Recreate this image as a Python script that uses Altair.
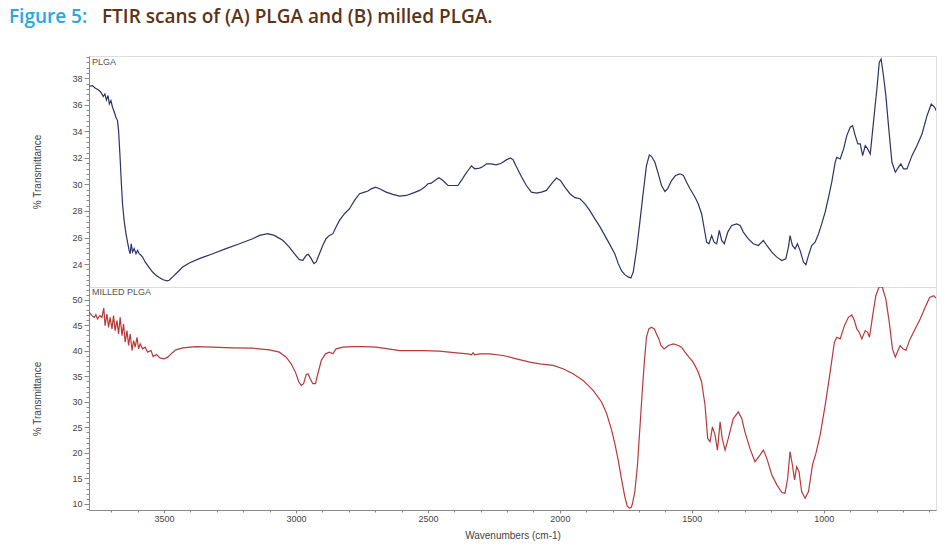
import altair as alt
import pandas as pd

# ---------------- data ----------------
plga_wn = [3783, 3771, 3761, 3748, 3739, 3730, 3724, 3718, 3712, 3707, 3701, 3695, 3688, 3682, 3676, 3672,
           3667, 3662, 3657, 3651, 3644, 3638, 3632, 3628, 3624, 3619, 3613, 3606, 3600, 3594, 3587, 3581,
           3571, 3562, 3553, 3543, 3530, 3518, 3505, 3490, 3480, 3467, 3448, 3429, 3404, 3366, 3315, 3265,
           3214, 3164, 3138, 3107, 3082, 3050, 3025, 3006, 2987, 2974, 2961, 2953, 2942, 2932, 2923, 2911,
           2898, 2886, 2873, 2860, 2848, 2835, 2816, 2797, 2778, 2759, 2740, 2727, 2715, 2698, 2683, 2658,
           2633, 2607, 2582, 2557, 2531, 2512, 2500, 2487, 2474, 2458, 2443, 2424, 2405, 2386, 2373, 2361,
           2348, 2335, 2323, 2304, 2291, 2278, 2260, 2241, 2222, 2203, 2187, 2177, 2165, 2146, 2127, 2108,
           2089, 2070, 2051, 2032, 2013, 1998, 1981, 1962, 1943, 1924, 1905, 1887, 1868, 1849, 1830, 1811,
           1792, 1779, 1766, 1754, 1741, 1731, 1722, 1709, 1697, 1684, 1672, 1661, 1653, 1640, 1627, 1615,
           1602, 1592, 1577, 1562, 1545, 1532, 1520, 1507, 1488, 1476, 1463, 1453, 1444, 1435, 1425, 1416,
           1406, 1396, 1387, 1377, 1364, 1349, 1330, 1317, 1305, 1286, 1267, 1248, 1229, 1216, 1197, 1178,
           1159, 1144, 1134, 1128, 1119, 1109, 1100, 1090, 1077, 1068, 1058, 1046, 1033, 1020, 1008, 995,
           982, 970, 957, 951, 938, 925, 913, 900, 891, 881, 871, 862, 853, 843, 834, 824, 812, 799, 790,
           783, 774, 765, 755, 742, 729, 717, 708, 698, 685, 666, 647, 628, 609, 593, 580, 571]
plga_t = [37.40, 37.45, 37.27, 37.12, 36.95, 36.62, 36.82, 36.37, 36.70, 36.07, 36.32, 35.82, 35.44, 35.07,
          34.81, 34.06, 32.31, 30.30, 28.54, 27.29, 26.29, 25.66, 25.03, 24.78, 25.53, 24.91, 25.16, 24.78,
          25.03, 24.78, 24.66, 24.53, 24.16, 23.90, 23.65, 23.40, 23.15, 22.98, 22.83, 22.73, 22.78, 23.03,
          23.40, 23.78, 24.08, 24.41, 24.78, 25.16, 25.53, 25.91, 26.16, 26.29, 26.16, 25.79, 25.28, 24.78,
          24.33, 24.28, 24.66, 24.73, 24.41, 24.03, 24.16, 24.78, 25.41, 25.91, 26.16, 26.29, 26.79, 27.29,
          27.79, 28.17, 28.80, 29.30, 29.42, 29.50, 29.67, 29.80, 29.67, 29.42, 29.25, 29.12, 29.17, 29.35,
          29.55, 29.80, 30.05, 30.10, 30.30, 30.50, 30.30, 29.92, 29.92, 29.92, 30.30, 30.68, 31.05, 31.40,
          31.18, 31.23, 31.35, 31.55, 31.55, 31.48, 31.60, 31.85, 32.00, 31.85, 31.35, 30.60, 29.92, 29.42,
          29.35, 29.42, 29.55, 30.05, 30.48, 30.30, 29.80, 29.30, 29.00, 28.92, 28.54, 28.04, 27.42, 26.84,
          26.16, 25.48, 24.78, 24.03, 23.48, 23.20, 23.03, 22.95, 23.40, 25.15, 27.16, 29.42, 31.42, 32.22,
          32.12, 31.67, 30.80, 29.92, 29.47, 29.67, 30.29, 30.67, 30.80, 30.67, 30.17, 29.67, 29.04, 28.54,
          27.79, 26.66, 25.65, 25.53, 26.15, 25.65, 25.53, 26.53, 25.78, 25.53, 26.41, 26.91, 27.03, 26.91,
          26.41, 25.90, 25.53, 25.40, 25.78, 25.40, 24.90, 24.52, 24.27, 24.40, 25.28, 26.15, 25.40, 25.15,
          25.53, 25.03, 24.15, 23.95, 24.65, 25.40, 25.65, 26.28, 27.03, 27.91, 29.04, 30.17, 31.67, 32.05,
          31.92, 32.68, 33.68, 34.31, 34.43, 33.68, 33.05, 33.05, 32.17, 32.93, 32.68, 32.30, 34.68, 37.19,
          39.20, 39.45, 38.19, 36.69, 34.43, 31.67, 30.92, 31.30, 31.55, 31.17, 31.17, 32.17, 32.93, 33.80,
          35.18, 36.06, 35.81, 35.43]

milled_wn = [3783, 3773, 3764, 3758, 3752, 3743, 3735, 3728, 3723, 3716, 3710, 3704, 3697, 3691, 3685, 3678,
             3672, 3666, 3659, 3653, 3647, 3640, 3634, 3628, 3621, 3615, 3609, 3602, 3596, 3590, 3581, 3571,
             3562, 3549, 3541, 3528, 3515, 3499, 3486, 3470, 3455, 3429, 3379, 3315, 3240, 3164, 3100, 3063,
             3037, 3018, 3002, 2989, 2980, 2971, 2961, 2954, 2946, 2936, 2926, 2917, 2904, 2888, 2873, 2860,
             2848, 2822, 2784, 2746, 2696, 2607, 2519, 2456, 2392, 2348, 2335, 2329, 2323, 2304, 2266, 2215,
             2165, 2114, 2076, 2026, 1988, 1950, 1912, 1874, 1842, 1823, 1804, 1792, 1779, 1766, 1754, 1745,
             1737, 1730, 1726, 1716, 1706, 1697, 1688, 1680, 1672, 1663, 1653, 1642, 1634, 1625, 1617, 1605,
             1589, 1570, 1551, 1539, 1526, 1511, 1495, 1476, 1463, 1450, 1440, 1431, 1422, 1412, 1403, 1393,
             1385, 1374, 1362, 1343, 1324, 1311, 1299, 1280, 1261, 1242, 1229, 1216, 1197, 1178, 1159, 1147,
             1137, 1128, 1119, 1111, 1103, 1094, 1084, 1071, 1058, 1043, 1030, 1014, 995, 976, 960, 951, 938,
             922, 907, 894, 884, 875, 866, 856, 843, 834, 827, 815, 803, 790, 778, 765, 752, 740, 729, 719,
             711, 700, 689, 673, 654, 635, 616, 599, 584, 571]
milled_t = [47.53, 46.88, 46.56, 47.08, 46.23, 46.88, 46.56, 48.38, 44.93, 47.21, 44.60, 46.56, 44.28, 46.88,
            43.95, 45.91, 43.30, 46.56, 42.98, 45.26, 41.68, 43.95, 41.03, 43.30, 40.05, 42.00, 40.70, 42.65,
            40.38, 41.35, 40.38, 40.70, 39.73, 40.05, 38.88, 39.27, 38.62, 38.43, 38.75, 39.53, 40.18, 40.57,
            40.83, 40.70, 40.57, 40.51, 40.18, 39.73, 38.75, 37.45, 35.82, 33.87, 33.22, 33.55, 35.37, 35.50,
            34.52, 33.55, 33.55, 35.50, 38.10, 39.40, 39.73, 39.40, 40.38, 40.70, 40.83, 40.83, 40.70, 40.05,
            40.05, 39.92, 39.60, 39.40, 39.21, 39.60, 39.21, 39.40, 39.40, 39.08, 38.43, 37.78, 37.45, 37.13,
            36.48, 35.50, 34.20, 32.25, 29.97, 27.70, 24.44, 21.84, 18.59, 14.69, 11.43, 9.61, 9.16, 9.29,
            9.81, 12.41, 17.62, 24.77, 31.93, 37.78, 42.66, 44.28, 44.61, 44.28, 43.31, 42.33, 41.03, 40.38,
            41.03, 41.36, 41.03, 40.71, 39.73, 38.76, 37.78, 35.83, 33.88, 29.32, 22.82, 22.17, 25.10, 23.47,
            20.54, 26.07, 22.82, 20.54, 22.82, 26.72, 28.02, 26.72, 24.12, 20.87, 18.27, 19.57, 20.54, 18.92,
            15.67, 13.72, 12.22, 12.09, 15.02, 20.22, 17.62, 14.69, 17.29, 16.32, 12.41, 11.11, 12.41, 17.62,
            19.89, 23.47, 29.32, 35.83, 41.68, 42.66, 42.33, 44.93, 46.56, 47.02, 45.91, 44.28, 43.63, 42.33,
            43.96, 43.63, 42.66, 46.89, 50.79, 52.61, 52.41, 50.14, 45.58, 40.38, 38.76, 40.06, 41.03, 40.38,
            40.06, 42.33, 44.28, 46.24, 48.51, 50.46, 50.79, 50.14]

x_domain = [575, 3784]
x_tick_values = list(range(600, 3800, 100))
top_domain = [22.27, 39.68]
top_tick_values = [round(22.4 + 0.4 * i, 1) for i in range(44)]
bottom_domain = [8.8, 52.5]
bottom_tick_values = list(range(9, 53))

title_a = ["Figure 5:"]
title_b = ["FTIR scans of (A) PLGA and (B) milled PLGA."]
label_top = ["PLGA"]
label_bottom = ["MILLED PLGA"]

# ---------------- chart ----------------
top_df = pd.DataFrame({"wn": plga_wn, "t": plga_t})
bot_df = pd.DataFrame({"wn": milled_wn, "t": milled_t})

AX_FONT = "Liberation Sans Narrow, Liberation Sans, Arial, sans-serif"
TITLE_FONT = "Open Sans"
W = 847

x_scale = alt.Scale(domain=x_domain, reverse=True, nice=False, zero=False)


def is_major(step):
    return f"abs(datum.value / {step} - round(datum.value / {step})) < 0.001"


def y_axis(values, major):
    return alt.Axis(
        title="% Transmittance",
        values=values,
        labelExpr=f"{is_major(major)} ? format(datum.value, 'd') : ''",
        tickSize={"condition": {"test": is_major(major), "value": 5}, "value": 3},
        grid=False,
        labelOverlap=False,
        labelBound=False,
        labelFont=AX_FONT, labelFontSize=9, labelColor="#444",
        titleFont="Liberation Sans, Arial, sans-serif", titleFontSize=10, titleFontWeight="normal",
        titleColor="#444", titlePadding=29,
        domainColor="#888", tickColor="#888", labelPadding=2,
    )


def text_layer(txt, **kw):
    return alt.Chart(pd.DataFrame({"txt": txt})).mark_text(
        align="left", baseline="top", **kw
    )


top_line = alt.Chart(top_df).mark_line(color="#2e3266", strokeWidth=1.2, clip=True).encode(
    x=alt.X("wn:Q", scale=x_scale, axis=None),
    y=alt.Y("t:Q", scale=alt.Scale(domain=top_domain, nice=False, zero=False),
            axis=y_axis(top_tick_values, 2)),
)
top_label = text_layer(label_top, font="Liberation Sans, Arial", fontSize=9, color="#555").encode(
    x=alt.value(3), y=alt.value(2), text="txt:N")
title1 = text_layer(title_a, font=TITLE_FONT, fontSize=19, fontWeight=600, color="#27a6df").encode(
    x=alt.value(-80), y=alt.value(-48), text="txt:N")
title2 = text_layer(title_b, font=TITLE_FONT, fontSize=19, fontWeight=600, color="#5a3418").encode(
    x=alt.value(13), y=alt.value(-48), text="txt:N")

top = alt.layer(top_line, top_label, title1, title2).properties(width=W, height=231)

bot_line = alt.Chart(bot_df).mark_line(color="#b83a3a", strokeWidth=1.2, clip=True).encode(
    x=alt.X("wn:Q", scale=x_scale, axis=alt.Axis(
        title="Wavenumbers (cm-1)", values=x_tick_values,
        labelExpr=f"{is_major(500)} ? format(datum.value, 'd') : ''",
        tickSize={"condition": {"test": is_major(500), "value": 3}, "value": 2},
        grid=False, labelOverlap=False,
        labelFont=AX_FONT, labelFontSize=9, labelColor="#444",
        titleFont="Liberation Sans, Arial, sans-serif", titleFontSize=10, titleFontWeight="normal",
        titleColor="#444", titlePadding=7,
        domainColor="#888", tickColor="#888", labelPadding=1,
    )),
    y=alt.Y("t:Q", scale=alt.Scale(domain=bottom_domain, nice=False, zero=False),
            axis=y_axis(bottom_tick_values, 5)),
)
bot_label = text_layer(label_bottom, font="Liberation Sans, Arial", fontSize=9, color="#555").encode(
    x=alt.value(3), y=alt.value(1), text="txt:N")

bottom = alt.layer(bot_line, bot_label).properties(width=W, height=223)

chart = alt.vconcat(top, bottom, spacing=0, bounds="flush").properties(
    padding={"left": 0, "top": -1, "right": 5, "bottom": 0}
).configure_view(stroke=None).configure(background="white")

chart.save("out.html", embed_options={"renderer": "svg", "actions": False})
